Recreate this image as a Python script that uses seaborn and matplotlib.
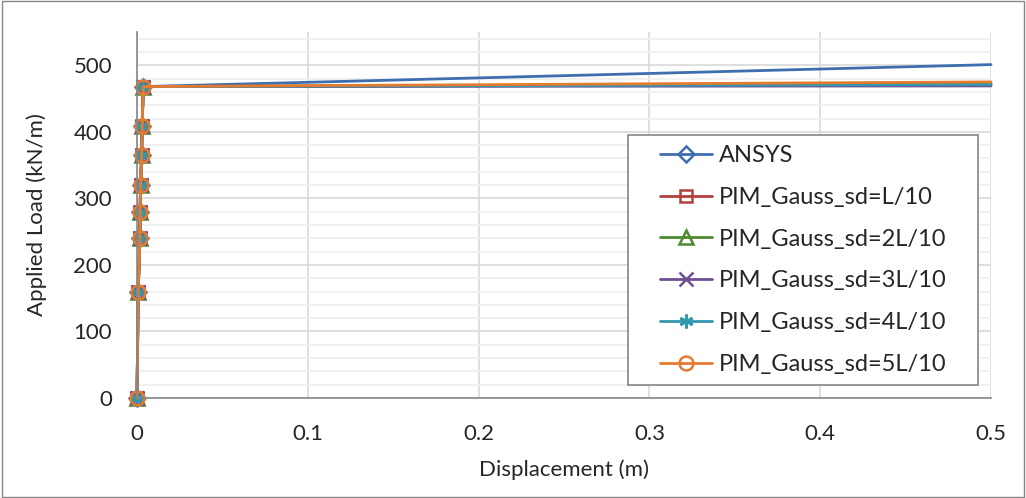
import numpy as np
import pandas as pd
import matplotlib
matplotlib.use('Agg')
import matplotlib.pyplot as plt
from matplotlib.ticker import MultipleLocator
import seaborn as sns

# Data
displacement = [0, 0.0007, 0.0017, 0.0018, 0.0021, 0.0027, 0.0030, 0.0037, 0.5]
load_common = [0, 160, 240, 280, 320, 365, 408, 468]
series_names = ['ANSYS', 'PIM_Gauss_sd=L/10', 'PIM_Gauss_sd=2L/10',
                'PIM_Gauss_sd=3L/10', 'PIM_Gauss_sd=4L/10', 'PIM_Gauss_sd=5L/10']
end_loads = [501, 472, 471, 469, 471, 475]

colors = ['#3F6EAE', '#B3403D', '#4E8A2F', '#6D4E93', '#3298B0', '#E57B2E']
markers = ['D', 's', '^', 'x', (6, 2, 0), 'o']
msizes = [8, 9, 10, 10, 10, 10]

sns.set_style('white')
plt.rcParams['font.family'] = ['Lato', 'DejaVu Sans']

fig = plt.figure(figsize=(10.26, 4.98), dpi=100)
ax = fig.add_axes([137 / 1026, 1 - 398 / 498, 854 / 1026, 366 / 498])

for name, end, c, m, ms in zip(series_names, end_loads, colors, markers, msizes):
    df = pd.DataFrame({'Displacement': displacement, 'Load': load_common + [end]})
    sns.lineplot(data=df, x='Displacement', y='Load', ax=ax, color=c, marker=m,
                 markersize=ms, markerfacecolor='none', markeredgecolor=c,
                 markeredgewidth=1.8, linewidth=2, label=name,
                 markevery=list(range(len(load_common))), clip_on=False)

ax.set_xlim(0, 0.5)
ax.set_ylim(0, 550)
ax.yaxis.set_major_locator(MultipleLocator(100))
ax.yaxis.set_minor_locator(MultipleLocator(20))
ax.set_xticks([0, 0.1, 0.2, 0.3, 0.4, 0.5])
ax.set_xticklabels(['0', '0.1', '0.2', '0.3', '0.4', '0.5'])
ax.grid(which='major', color='#D9D9D9', linewidth=1.2)
ax.grid(which='minor', axis='y', color='#EFEFEF', linewidth=1.2)
ax.set_axisbelow(True)
ax.tick_params(axis='x', which='both', length=0, labelsize=16, pad=19)
ax.tick_params(axis='y', which='both', length=0, labelsize=16, pad=18)
for s in ['top', 'right']:
    ax.spines[s].set_visible(False)
for s in ['left', 'bottom']:
    ax.spines[s].set_color('#868686')
    ax.spines[s].set_linewidth(1.2)

ax.set_xlabel('Displacement (m)', fontsize=16, labelpad=11)
ax.set_ylabel('Applied Load (kN/m)', fontsize=16, labelpad=19)

# legend box drawn separately so it gets Excel-like wide side padding
box = plt.Rectangle((0.575, 0.0355), 0.41, 0.683, transform=ax.transAxes,
                    facecolor='white', edgecolor='#868686', linewidth=1.2, zorder=4)
ax.add_patch(box)
leg = ax.legend(loc='center', bbox_to_anchor=(0.78, 0.377), fontsize=17,
                handlelength=2.2, handletextpad=0.3, labelspacing=0.88,
                borderpad=0, borderaxespad=0, frameon=False)
leg.set_zorder(5)

# outer border of the chart area
fig.patches.append(plt.Rectangle((0.002, 0.003), 0.996, 0.994, transform=fig.transFigure,
                                 fill=False, edgecolor='#868686', linewidth=1))

fig.savefig('out.png', dpi=100)
